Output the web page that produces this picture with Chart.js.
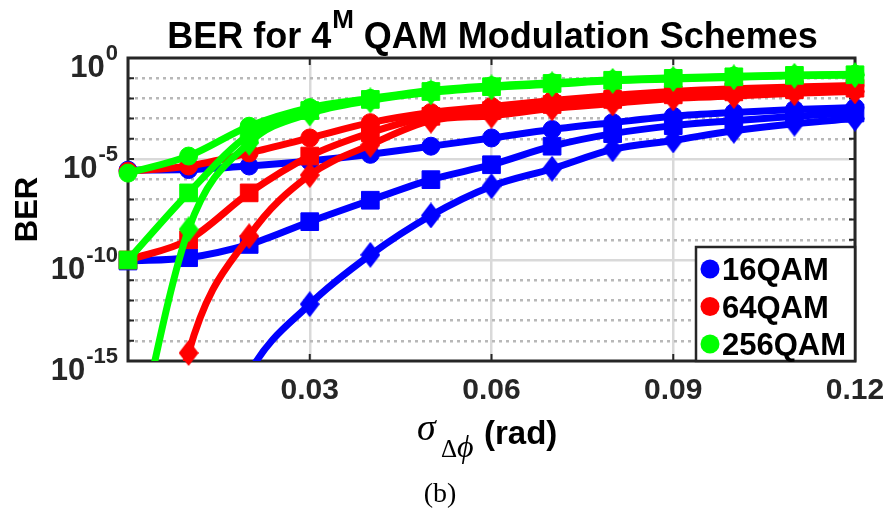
<!DOCTYPE html>
<html>
<head>
<meta charset="utf-8">
<script src="https://cdn.jsdelivr.net/npm/chart.js@4/dist/chart.umd.min.js"></script>
<style>
  html, body { margin: 0; padding: 0; background: #fff; }
  #ber { display: block; }
</style>
</head>
<body>
<canvas id="ber" width="888" height="516"></canvas>
<script>
// phase noise std dev (rad)
const sigma = [0, 0.01, 0.02, 0.03, 0.04, 0.05, 0.06, 0.07, 0.08, 0.09, 0.10, 0.11, 0.12];

// BER per constellation, three curves each (circle / square / diamond markers)
const ber16Circle  = [2.8e-6, 3.0e-6, 4.5e-6, 7.9e-6, 1.7e-5, 4.3e-5, 1.1e-4, 2.9e-4, 6.3e-4, 1.3e-3, 2.0e-3, 2.8e-3, 3.5e-3];
const ber64Circle  = [2.5e-6, 4.5e-6, 2.0e-5, 1.1e-4, 6.3e-4, 2.0e-3, 4.0e-3, 7.9e-3, 1.4e-2, 2.2e-2, 3.0e-2, 3.7e-2, 4.4e-2];
const ber256Circle = [2.0e-6, 1.4e-5, 4.2e-4, 3.5e-3, 1.0e-2, 2.5e-2, 4.2e-2, 6.0e-2, 8.3e-2, 0.105, 0.126, 0.145, 0.158];

const ber16Square  = [8.9e-11, 1.3e-10, 5.9e-10, 7.9e-9, 9.1e-8, 9.5e-7, 5.2e-6, 4.3e-5, 1.8e-4, 4.5e-4, 7.9e-4, 1.3e-3, 1.9e-3];
const ber64Square  = [1.0e-10, 1.0e-9, 2.1e-7, 1.4e-5, 2.0e-4, 1.3e-3, 2.5e-3, 5.0e-3, 8.9e-3, 1.5e-2, 2.1e-2, 2.7e-2, 3.2e-2];
const ber256Square = [1.0e-10, 2.1e-7, 1.6e-4, 2.5e-3, 8.9e-3, 2.2e-2, 3.8e-2, 5.5e-2, 7.9e-2, 9.8e-2, 0.117, 0.138, 0.148];

const ber16Diamond  = [1e-32, 1e-23, 2.5e-16, 6.5e-13, 1.8e-10, 1.6e-8, 4.5e-7, 3.3e-6, 3.0e-5, 8.3e-5, 2.5e-4, 5.6e-4, 1.0e-3];
const ber64Diamond  = [1e-30, 2.5e-15, 1.5e-9, 1.6e-6, 5.0e-5, 7.9e-4, 1.4e-3, 3.2e-3, 5.6e-3, 1.0e-2, 1.3e-2, 1.8e-2, 2.2e-2];
const ber256Diamond = [1e-21, 3.3e-9, 6.3e-5, 1.8e-3, 7.9e-3, 2.0e-2, 3.5e-2, 5.0e-2, 7.4e-2, 9.1e-2, 0.11, 0.132, 0.141];

const legendLabels = ['16QAM', '64QAM', '256QAM'];
const xTicks = [0.03, 0.06, 0.09, 0.12];
const xTickLabels = ['0.03', '0.06', '0.09', '0.12'];
const yTicks = [1, 1e-5, 1e-10, 1e-15];
const yTickExps = ['0', '-5', '-10', '-15'];
const yMajor = [1e-5, 1e-10];
const yMinor = [1e-1, 1e-2, 1e-3, 1e-4, 1e-6, 1e-7, 1e-8, 1e-9, 1e-11, 1e-12, 1e-13, 1e-14];

const BLUE = '#0000ff', RED = '#ff0000', GREEN = '#00ff00';
const INK = '#262626';
const SANS = '"Liberation Sans", Arial, Helvetica, sans-serif';
const SERIF = '"Liberation Serif", "DejaVu Serif", "Times New Roman", serif';

// tall diamond like matlab's 'd' marker
function diamond(color) {
  const c = document.createElement('canvas');
  c.width = 20; c.height = 26;
  const g = c.getContext('2d');
  g.fillStyle = color;
  g.beginPath();
  g.moveTo(10, 0); g.lineTo(20, 13); g.lineTo(10, 26); g.lineTo(0, 13);
  g.closePath();
  g.fill();
  return c;
}

// plot order: circles, squares, diamonds
const series = [
  {data: ber16Circle,   color: BLUE,  style: 'circle', r: 9},
  {data: ber64Circle,   color: RED,   style: 'circle', r: 9},
  {data: ber256Circle,  color: GREEN, style: 'circle', r: 9},
  {data: ber16Square,   color: BLUE,  style: 'rect',   r: 12.5},
  {data: ber64Square,   color: RED,   style: 'rect',   r: 12.5},
  {data: ber256Square,  color: GREEN, style: 'rect',   r: 12.5},
  {data: ber16Diamond,  color: BLUE,  style: diamond(BLUE),  r: 10},
  {data: ber64Diamond,  color: RED,   style: diamond(RED),   r: 10},
  {data: ber256Diamond, color: GREEN, style: diamond(GREEN), r: 10}
];

// lines are clipped to the axes, markers are allowed to spill over the frame
const datasets = [];
series.forEach((s, k) => {
  const pts = sigma.map((x, i) => ({x: x, y: s.data[i]}));
  datasets.push({
    data: pts,
    borderColor: s.color,
    borderWidth: 7,
    borderJoinStyle: 'round',
    pointRadius: 0,
    cubicInterpolationMode: 'monotone',
    fill: false,
    clip: 0,
    order: 100 - 2 * k
  });
  datasets.push({
    data: pts,
    showLine: false,
    pointStyle: s.style,
    pointRadius: s.r,
    pointBorderWidth: 1,
    pointBackgroundColor: s.color,
    pointBorderColor: s.color,
    clip: false,
    order: 99 - 2 * k
  });
});

function txt(ctx, s, x, y, font, align, color) {
  ctx.font = font;
  ctx.textAlign = align || 'left';
  ctx.textBaseline = 'alphabetic';
  ctx.fillStyle = color || '#000';
  ctx.fillText(s, x, y);
}

const berDecor = {
  id: 'berDecor',
  beforeDatasetsDraw(chart) {
    const {ctx, chartArea: a, scales} = chart;
    ctx.save();
    ctx.strokeStyle = INK;
    ctx.lineWidth = 2;
    ctx.beginPath();
    yMajor.concat(yMinor).forEach(v => {
      const py = scales.y.getPixelForValue(v);
      ctx.moveTo(a.left, py); ctx.lineTo(a.left + 6, py);
      ctx.moveTo(a.right, py); ctx.lineTo(a.right - 6, py);
    });
    [0.03, 0.06, 0.09].forEach(v => {
      const px = scales.x.getPixelForValue(v);
      ctx.moveTo(px, a.bottom); ctx.lineTo(px, a.bottom - 7);
      ctx.moveTo(px, a.top); ctx.lineTo(px, a.top + 7);
    });
    ctx.stroke();
    ctx.lineWidth = 3;
    ctx.strokeRect(a.left, a.top, a.right - a.left, a.bottom - a.top);
    ctx.restore();
  },
  afterDraw(chart) {
    const {ctx, chartArea: a, scales} = chart;
    ctx.save();

    // legend box, bottom right inside the axes
    const lw = 159, lh = 114;
    const lx = a.right - lw, ly = a.bottom - lh;
    ctx.fillStyle = '#fff';
    ctx.fillRect(lx, ly, lw, lh);
    ctx.strokeStyle = INK;
    ctx.lineWidth = 2.5;
    ctx.strokeRect(lx, ly, lw, lh);
    const legendColors = [BLUE, RED, GREEN];
    legendLabels.forEach((lab, i) => {
      const cy = ly + 22 + i * 37.5;
      ctx.fillStyle = legendColors[i];
      ctx.beginPath();
      ctx.arc(lx + 14, cy, 9.5, 0, Math.PI * 2);
      ctx.fill();
      txt(ctx, lab, lx + 26, cy + 11, 'bold 31px ' + SANS, 'left', '#000');
    });

    // x tick labels
    xTicks.forEach((v, i) => {
      txt(ctx, xTickLabels[i], scales.x.getPixelForValue(v), 399, 'bold 30px ' + SANS, 'center', INK);
    });

    // y tick labels, 10 with superscript exponent
    const baseFont = 'bold 31px ' + SANS, expFont = 'bold 22px ' + SANS;
    yTicks.forEach((v, i) => {
      const py = scales.y.getPixelForValue(v);
      ctx.font = expFont;
      const we = ctx.measureText(yTickExps[i]).width;
      const xr = a.left - 10;
      txt(ctx, yTickExps[i], xr - we, py + 2, expFont, 'left', INK);
      txt(ctx, '10', xr - we - 1, py + 19, baseFont, 'right', INK);
    });

    // y axis title
    ctx.save();
    ctx.translate(37, (a.top + a.bottom) / 2);
    ctx.rotate(-Math.PI / 2);
    txt(ctx, 'BER', 0, 0, 'bold 31px ' + SANS, 'center', '#000');
    ctx.restore();

    // x axis title: sigma with delta-phi subscript, then (rad)
    txt(ctx, 'σ', 417, 440, 'italic 38px ' + SERIF, 'left', '#000');
    txt(ctx, 'Δ', 441, 457, '25px ' + SERIF, 'left', '#000');
    txt(ctx, 'ϕ', 457, 457, 'italic 32px ' + SERIF, 'left', '#000');
    txt(ctx, '(rad)', 484, 444, 'bold 33px ' + SANS, 'left', '#000');

    // title with superscript M
    const tFont = 'bold 36px ' + SANS, sFont = 'bold 26px ' + SANS;
    const t1 = 'BER for 4', t2 = 'M', t3 = ' QAM Modulation Schemes';
    ctx.font = tFont;
    const w1 = ctx.measureText(t1).width, w3 = ctx.measureText(t3).width;
    ctx.font = sFont;
    const w2 = ctx.measureText(t2).width;
    const x0 = 492 - (w1 + w2 + w3) / 2;
    txt(ctx, t1, x0, 48, tFont, 'left', '#000');
    txt(ctx, t2, x0 + w1 + 1, 28, sFont, 'left', '#000');
    txt(ctx, t3, x0 + w1 + w2 + 1, 48, tFont, 'left', '#000');

    // panel caption
    txt(ctx, '(b)', 440, 502, '28px ' + SERIF, 'center', '#000');
    ctx.restore();
  }
};

new Chart(document.getElementById('ber'), {
  type: 'line',
  data: { datasets: datasets },
  options: {
    responsive: false,
    animation: false,
    devicePixelRatio: 1,
    events: [],
    layout: { padding: { left: 128, top: 58, right: 33, bottom: 155 } },
    plugins: {
      legend: { display: false },
      tooltip: { enabled: false },
      title: { display: false }
    },
    scales: {
      x: {
        type: 'linear',
        min: 0,
        max: 0.12,
        ticks: { display: false, stepSize: 0.03 },
        grid: { color: '#d9d9d9', lineWidth: 2.5, drawTicks: false },
        border: { display: false }
      },
      y: {
        type: 'logarithmic',
        position: 'left',
        min: 1e-15,
        max: 1,
        afterBuildTicks: ax => { ax.ticks = yMajor.map(v => ({ value: v })); },
        ticks: { display: false },
        grid: { color: '#d9d9d9', lineWidth: 2.5, drawTicks: false },
        border: { display: false }
      },
      yMinor: {
        type: 'logarithmic',
        position: 'left',
        min: 1e-15,
        max: 1,
        afterBuildTicks: ax => { ax.ticks = yMinor.map(v => ({ value: v })); },
        ticks: { display: false },
        grid: { color: '#b8b8b8', lineWidth: 2.5, drawTicks: false },
        border: { display: false, dash: [3, 4] }
      }
    }
  },
  plugins: [berDecor]
});
</script>
</body>
</html>
